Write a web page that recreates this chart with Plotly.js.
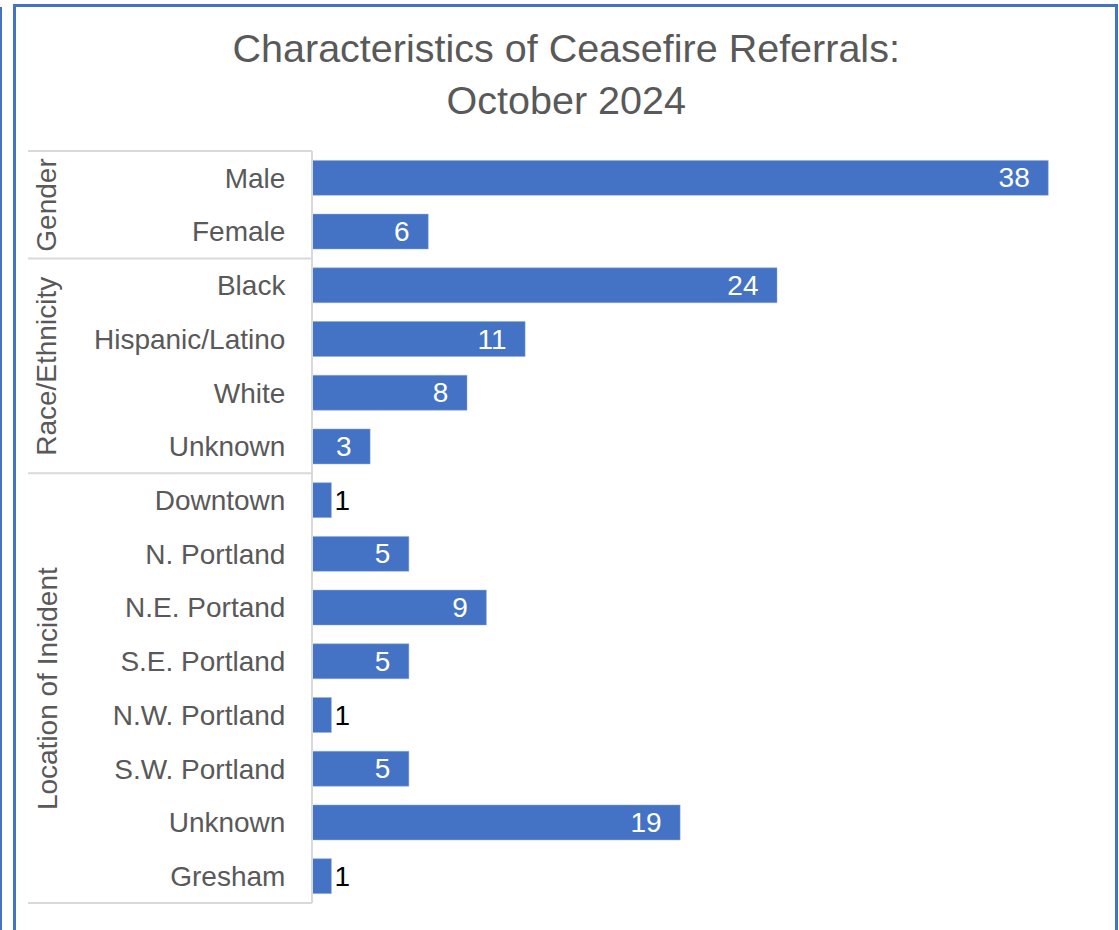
<!DOCTYPE html>
<html>
<head>
<meta charset="utf-8">
<script src="https://cdn.plot.ly/plotly-3.0.1.min.js"></script>
<style>
  body { margin: 0; overflow: hidden; background: #fff; }
  #edge { position: absolute; left: 0; top: 7px; width: 2px; height: 930px; background: #4472c4; }
  #frame { position: absolute; left: 13px; top: 4px; width: 1099px; height: 1000px; border: 3px solid #4472c4; }
  #chart { position: absolute; left: 0; top: 0; width: 1119px; height: 930px; }
</style>
</head>
<body>
<div id="edge"></div>
<div id="frame"></div>
<div id="chart"></div>
<script>
// categories, top to bottom
const labels = ['Male', 'Female', 'Black', 'Hispanic/Latino', 'White', 'Unknown',
    'Downtown', 'N. Portland', 'N.E. Portand', 'S.E. Portland', 'N.W. Portland',
    'S.W. Portland', 'Unknown', 'Gresham'];
const counts = [38, 6, 24, 11, 8, 3, 1, 5, 9, 5, 1, 5, 19, 1];
// outer category groups and how many rows each spans
const groups = ['Gender', 'Race/Ethnicity', 'Location of Incident'];
const groupSizes = [2, 4, 8];

const grey = '#595959';
const lineGrey = '#d9d9d9';
const font = 'Liberation Sans, Arial, sans-serif';

const rows = labels.map((l, i) => i);
const nRows = labels.length;

// small bars get their label outside, in black
const textPos = counts.map(v => v > 1 ? 'inside' : 'outside');
const textCol = counts.map(v => v > 1 ? '#ffffff' : '#000000');
const texts = counts.map(v => v > 1 ? v + '\u00a0\u00a0' : String(v));

const data = [{
    type: 'bar',
    orientation: 'h',
    x: counts,
    y: rows,
    text: texts,
    textposition: textPos,
    insidetextanchor: 'end',
    constraintext: 'none',
    textfont: {family: font, size: 28, color: textCol},
    cliponaxis: false,
    marker: {color: '#4472c4', line: {color: '#8faadc', width: 0.5}},
    hoverinfo: 'x+text'
}];

// paper x for the left end of the category label box
const boxLeft = -0.3665;
const shapes = [];
const annotations = [];
let start = 0;
shapes.push({type: 'line', xref: 'paper', yref: 'paper', x0: boxLeft, x1: 0, y0: 1, y1: 1,
    line: {color: lineGrey, width: 2}});
groups.forEach((g, k) => {
    const end = start + groupSizes[k];
    const yTop = 1 - start / nRows;
    const yBot = 1 - end / nRows;
    shapes.push({type: 'line', xref: 'paper', yref: 'paper', x0: boxLeft, x1: 0, y0: yBot, y1: yBot,
        line: {color: lineGrey, width: 2}});
    annotations.push({
        xref: 'paper', yref: 'paper', x: -0.342, y: (yTop + yBot) / 2,
        xanchor: 'center', yanchor: 'middle',
        text: g, textangle: -90, showarrow: false,
        font: {family: font, size: 28, color: grey}
    });
    start = end;
});
shapes.push({type: 'line', xref: 'paper', yref: 'paper', x0: 0, x1: 0, y0: 0, y1: 1,
    line: {color: lineGrey, width: 2}});

const layout = {
    width: 1119,
    height: 930,
    margin: {l: 312, r: 32, t: 151, b: 27, pad: 0},
    paper_bgcolor: 'rgba(0,0,0,0)',
    plot_bgcolor: 'rgba(0,0,0,0)',
    title: {
        text: 'Characteristics of Ceasefire Referrals:<br>October 2024',
        font: {family: font, size: 39.5, color: grey},
        xref: 'container', x: 0.506,
        yref: 'container', y: 0.933, yanchor: 'top'
    },
    bargap: 0.35,
    showlegend: false,
    xaxis: {
        range: [0, 40],
        visible: false,
        fixedrange: true
    },
    yaxis: {
        range: [nRows - 0.5, -0.5],
        tickvals: rows,
        ticktext: labels,
        tickfont: {family: font, size: 28, color: grey},
        ticks: 'outside',
        ticklen: 20,
        tickcolor: 'rgba(0,0,0,0)',
        showgrid: false,
        zeroline: false,
        showline: false,
        fixedrange: true
    },
    shapes: shapes,
    annotations: annotations
};

Plotly.newPlot('chart', data, layout, {displayModeBar: false, staticPlot: true});
</script>
</body>
</html>
